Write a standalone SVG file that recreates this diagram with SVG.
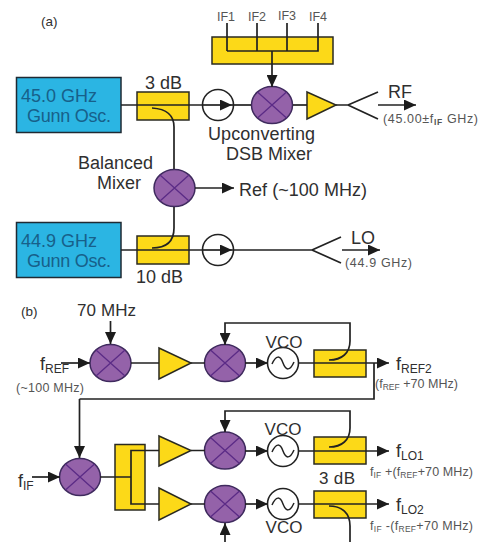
<svg xmlns="http://www.w3.org/2000/svg" width="479" height="542" viewBox="0 0 479 542">
<style>
text{font-family:"Liberation Sans",Arial,sans-serif;fill:#2f2f2f}
.l{font-size:18px}
.m{font-size:17px}
.s{font-size:12.500px;fill:#555}
.t{font-size:18px;fill:#17608a}
.b{font-size:13.500px}
.if{font-size:12.500px;fill:#555}
.sub{font-size:12px}
.subs{font-size:8.500px}
.osc{fill:#2bb5e3;stroke:#1f2a33;stroke-width:1.5}
.cpl{fill:#fcd918;stroke:#2a2a20;stroke-width:1.5}
.amp{fill:#fcd918;stroke:#2a2a20;stroke-width:1.5}
.mix{fill:#9462a9;stroke:#3f2a5e;stroke-width:1.5}
.x{stroke:#5b2b86;stroke-width:1.3;fill:none}
.circ{fill:#fff;stroke:#222;stroke-width:1.6}
.sine{fill:none;stroke:#222;stroke-width:1.5}
.w{fill:none;stroke:#222;stroke-width:1.7}
.a{marker-end:url(#arr)}
</style>
<defs>
<marker id="arr" markerUnits="userSpaceOnUse" markerWidth="13" markerHeight="11" refX="12" refY="5.500" orient="auto">
<path d="M0 0L12 5.500L0 11Z" fill="#1c1c1c"/>
</marker>
<g id="mx"><ellipse class="mix" cx="0" cy="0" rx="20.500" ry="18.500"/><path class="x" d="M-14.500-13L14.500 13M14.500-13L-14.500 13"/></g>
<path id="wave" class="sine" d="M-11 1C-7-8-3-8 0 0S7 8 11-1"/>
</defs>

<text class="b" x="41" y="26">(a)</text>
<text class="b" x="21" y="316">(b)</text>

<g id="gunn1"><rect class="osc" x="16.500" y="77.500" width="104.500" height="55"/><text class="t" x="21" y="102">45.0 GHz</text><text class="t" x="27" y="122" textLength="84">Gunn Osc.</text></g>
<g id="gunn2"><rect class="osc" x="16.500" y="222.500" width="104.500" height="55"/><text class="t" x="21" y="247">44.9 GHz</text><text class="t" x="27" y="267" textLength="84">Gunn Osc.</text></g>
<g id="coupler3dB"><rect class="cpl" x="137" y="92" width="52" height="28"/><text class="l" x="145" y="89">3 dB</text></g>
<g id="coupler10dB"><rect class="cpl" x="137" y="236" width="52" height="28"/><text class="l" x="136" y="283">10 dB</text></g>
<g id="circ1"><circle class="circ" cx="218" cy="105" r="15.500"/></g>
<g id="circ2"><circle class="circ" cx="218" cy="250" r="15.500"/></g>
<g id="ifbox"><rect class="cpl" x="212" y="37" width="121" height="27"/>
<text class="if" x="217" y="21">IF1</text><text class="if" x="248" y="21">IF2</text><text class="if" x="278" y="20">IF3</text><text class="if" x="309" y="21">IF4</text></g>
<g id="upmixer"><use href="#mx" x="272" y="105"/><text class="l" x="208" y="140" textLength="107">Upconverting</text><text class="l" x="269" y="160" text-anchor="middle">DSB Mixer</text></g>
<g id="amp1"><path class="amp" d="M307 92L336 105L307 119Z"/></g>
<g id="balmixer"><use href="#mx" x="174.500" y="188"/><text class="l" x="78" y="169" textLength="75">Balanced</text><text class="l" x="141" y="189" text-anchor="end">Mixer</text></g>

<g id="labels-a">
<text class="l" x="388" y="98">RF</text>
<text class="s" x="383" y="123" textLength="95">(45.00±f<tspan class="subs" dy="2" font-weight="bold">IF</tspan><tspan dy="-2"> GHz)</tspan></text>
<text x="239" y="196" class="l" textLength="128">Ref (~100 MHz)</text>
<text class="l" x="351" y="244">LO</text>
<text class="s" x="345" y="267" textLength="67">(44.9 GHz)</text>
</g>

<g id="m1"><use href="#mx" x="110.500" y="363"/><text class="m" x="77" y="316" textLength="59">70 MHz</text></g>
<g id="fref"><text class="l" x="40" y="370">f<tspan class="sub" dy="3">REF</tspan></text><text class="s" x="16" y="392" textLength="68">(~100 MHz)</text></g>
<g id="a1"><path class="amp" d="M159 348L191 363L159 379Z"/></g>
<g id="m2"><use href="#mx" x="225" y="363"/></g>
<g id="vco1"><circle class="circ" cx="283" cy="363" r="15.500"/><use href="#wave" x="283" y="363"/><text class="m" x="284" y="348" text-anchor="middle">VCO</text></g>
<g id="c1"><rect class="cpl" x="314" y="350" width="52" height="27"/></g>
<g id="fref2"><text class="l" x="396" y="370">f<tspan class="sub" dy="3">REF2</tspan></text><text class="s" x="375" y="388" textLength="83">(f<tspan class="subs" dy="2">REF</tspan><tspan dy="-2"> +70 MHz)</tspan></text></g>
<g id="m3"><use href="#mx" x="80" y="477"/></g>
<g id="fif"><text class="l" x="18" y="487">f<tspan class="sub" dy="3">IF</tspan></text></g>
<g id="split"><rect class="cpl" x="115" y="444.500" width="30" height="65.500"/></g>
<g id="a2"><path class="amp" d="M159 436L191 450.500L159 466Z"/></g>
<g id="a3"><path class="amp" d="M159 488L191 504L159 520Z"/></g>
<g id="m4"><use href="#mx" x="225" y="450.500"/></g>
<g id="m5"><use href="#mx" x="225" y="504"/></g>
<g id="vco2"><circle class="circ" cx="283" cy="451" r="15.500"/><use href="#wave" x="283" y="451"/><text class="m" x="283" y="435" text-anchor="middle">VCO</text></g>
<g id="vco3"><circle class="circ" cx="283" cy="504" r="15.500"/><use href="#wave" x="283" y="504"/><text class="m" x="284" y="533" text-anchor="middle">VCO</text></g>
<g id="c2"><rect class="cpl" x="314" y="437" width="52" height="27"/></g>
<g id="c3"><rect class="cpl" x="314" y="491" width="52" height="27"/><text class="l" x="319" y="484" textLength="36" style="font-size:17px">3 dB</text></g>
<g id="flo1"><text class="l" x="396" y="457">f<tspan class="sub" dy="3">LO1</tspan></text><text class="s" x="370" y="476" textLength="103">f<tspan class="subs" dy="2">IF</tspan><tspan dy="-2"> +(f</tspan><tspan class="subs" dy="2">REF</tspan><tspan dy="-2">+70 MHz)</tspan></text></g>
<g id="flo2"><text class="l" x="396" y="511">f<tspan class="sub" dy="3">LO2</tspan></text><text class="s" x="370" y="530" textLength="103">f<tspan class="subs" dy="2">IF</tspan><tspan dy="-2"> -(f</tspan><tspan class="subs" dy="2">REF</tspan><tspan dy="-2">+70 MHz)</tspan></text></g>

<g id="connectors">
<path class="w" d="M121 105H202"/>
<path class="w a" d="M202 105H232"/>
<path class="w" d="M232 105H251"/>
<path class="w" d="M293 105H307"/>
<path class="w" d="M336 105H348M378 92L348 105L378 119"/>
<path class="w a" d="M378 105H416"/>
<path class="w" d="M227 23V51M257 23V51M287 23V51M318 23V51H227"/>
<path class="w a" d="M272 51V87"/>
<path class="w" d="M152 108C166 109 174 114 174 127V169"/>
<path class="w" d="M174 207V228C174 242 166 248 152 248"/>
<path class="w a" d="M195 188H234"/>
<path class="w" d="M121 250H202"/>
<path class="w a" d="M202 250H232"/>
<path class="w" d="M232 250H312M341 237L312 250L341 263"/>
<path class="w a" d="M342 250H380"/>

<path class="w a" d="M110.500 321V344"/>
<path class="w a" d="M61 363H90"/>
<path class="w" d="M131 363H159M191 363H205"/>
<path class="w a" d="M245 363H268"/>
<path class="w a" d="M298.500 363H389"/>
<path class="w a" d="M329 360C342 360 350 353 350 341V323H225V345"/>
<path class="w" d="M374 363V399H79.500"/>
<path class="w a" d="M79.500 399V458"/>
<path class="w a" d="M32 477H60"/>
<path class="w" d="M100 477H131M159 450.500H131V504H159M191 450.500H205M191 504H205"/>
<path class="w a" d="M245 451H268"/>
<path class="w a" d="M245 504H268"/>
<path class="w a" d="M298.500 451H389"/>
<path class="w a" d="M298.500 504H389"/>
<path class="w a" d="M329 447C342 447 350 440 350 428V411H225V432"/>
<path class="w a" d="M225 542V523"/>
<path class="w" d="M329 506C342 506 350 513 350 526V542"/>
</g>
</svg>
